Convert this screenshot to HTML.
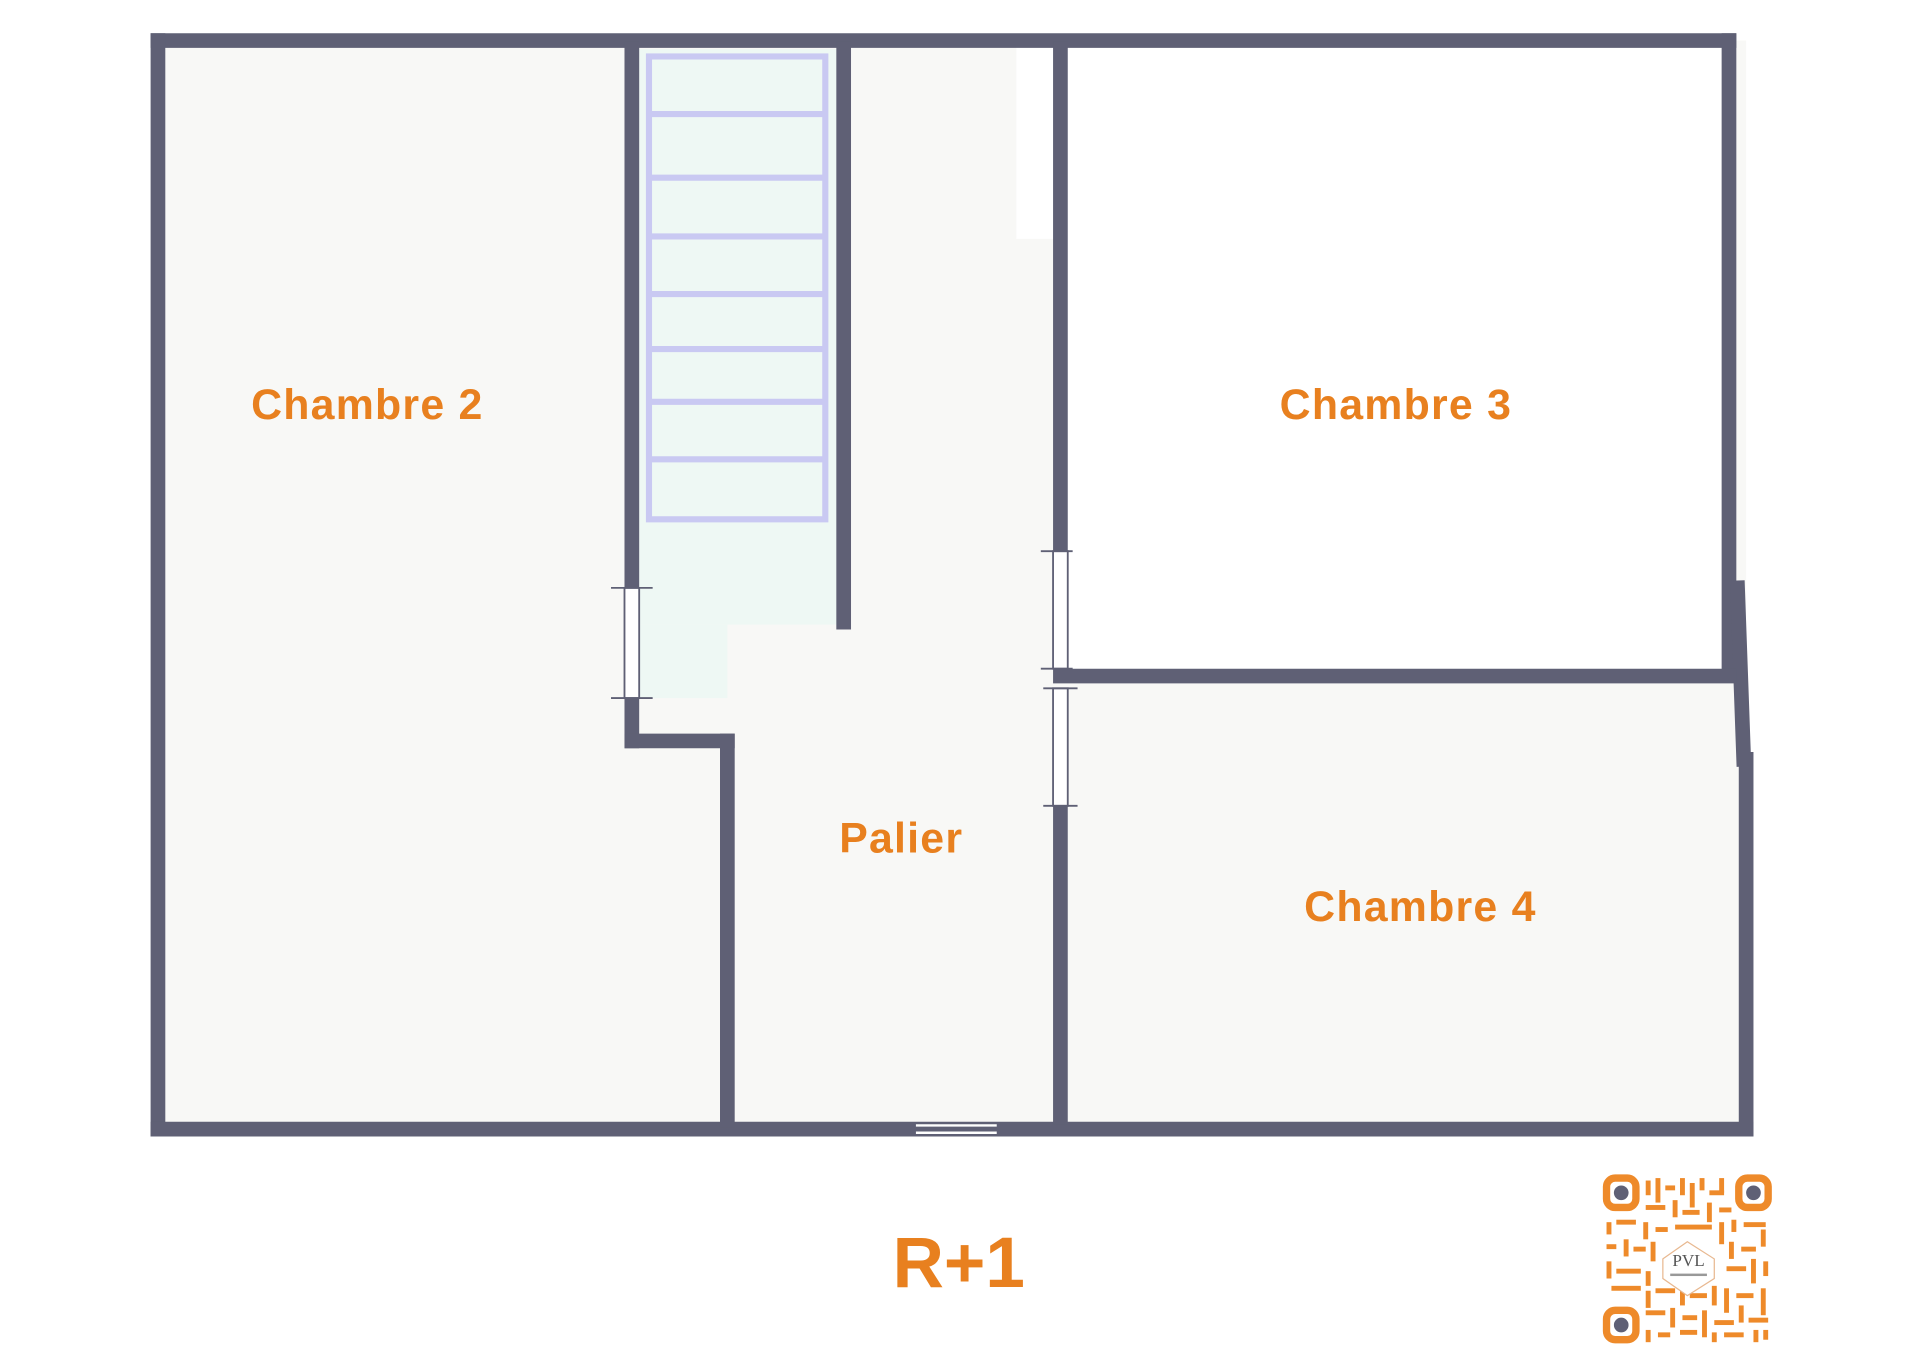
<!DOCTYPE html>
<html><head><meta charset="utf-8"><style>
html,body{margin:0;padding:0;background:#fff;}
svg{display:block}
text{font-family:"Liberation Sans","DejaVu Sans",sans-serif;font-weight:bold;fill:#e8801f}
</style></head><body>
<svg width="1920" height="1357" viewBox="0 0 1568 1108" xmlns="http://www.w3.org/2000/svg">
<rect width="1568" height="1108" fill="#fff"/>
<rect x="129" y="33" width="1297" height="889" fill="#f8f8f6"/>
<rect x="866" y="33" width="546" height="519" fill="#fff"/>
<rect x="830" y="33" width="36" height="162" fill="#fff"/>
<rect x="522" y="40" width="167" height="470" fill="#eef8f4"/>
<rect x="522" y="510" width="72" height="60" fill="#eef8f4"/>
<g stroke="#c9c9f2" stroke-width="5" fill="none">
<rect x="530" y="46" width="144" height="378"/>
<line x1="530" y1="93" x2="674" y2="93"/><line x1="530" y1="145" x2="674" y2="145"/>
<line x1="530" y1="193" x2="674" y2="193"/><line x1="530" y1="240" x2="674" y2="240"/>
<line x1="530" y1="285" x2="674" y2="285"/><line x1="530" y1="328" x2="674" y2="328"/>
<line x1="530" y1="375" x2="674" y2="375"/>
</g>
<g stroke="#5f6075" stroke-width="12" fill="none" stroke-linecap="square">
<line x1="129" y1="33" x2="1412" y2="33"/>
<line x1="129" y1="33" x2="129" y2="922"/>
<line x1="129" y1="922" x2="1426" y2="922"/>
<line x1="1412" y1="33" x2="1412" y2="550"/>
<line x1="1419" y1="480" x2="1424" y2="620"/>
<line x1="1426" y1="620" x2="1426" y2="922"/>
<line x1="516" y1="40" x2="516" y2="478"/>
<line x1="516" y1="572" x2="516" y2="605"/>
<line x1="516" y1="605" x2="594" y2="605"/>
<line x1="594" y1="605" x2="594" y2="915"/>
<line x1="689" y1="40" x2="689" y2="508"/>
<line x1="866" y1="40" x2="866" y2="448"/>
<line x1="866" y1="664" x2="866" y2="912"/>
<line x1="866" y1="552" x2="1412" y2="552"/>
</g>
<g fill="#fff" stroke="#5f6075" stroke-width="1.5">
<rect x="510" y="480" width="12" height="90"/>
<line x1="499" y1="480" x2="533" y2="480"/><line x1="499" y1="570" x2="533" y2="570"/>
<rect x="860" y="450" width="12" height="96"/>
<line x1="850" y1="450" x2="876" y2="450"/><line x1="850" y1="546" x2="876" y2="546"/>
<rect x="860" y="562" width="12" height="96"/>
<line x1="852" y1="562" x2="880" y2="562"/><line x1="852" y1="658" x2="880" y2="658"/>
</g>
<g stroke="#fff" stroke-width="2"><line x1="748" y1="919" x2="814" y2="919"/><line x1="748" y1="925" x2="814" y2="925"/></g>
<g style="letter-spacing:1px">
<text x="300" y="342" font-size="35" text-anchor="middle">Chambre 2</text>
<text x="1140" y="342" font-size="35" text-anchor="middle">Chambre 3</text>
<text x="736" y="696" font-size="35" text-anchor="middle">Palier</text>
<text x="1160" y="752" font-size="35" text-anchor="middle">Chambre 4</text>
</g>
<text x="783" y="1051" font-size="58" text-anchor="middle">R+1</text>
<g transform="translate(1308,958)">
<g fill="none" stroke="#ee8a2a" stroke-width="6">
<rect x="4" y="4" width="24" height="24" rx="7"/><rect x="112" y="4" width="24" height="24" rx="7"/><rect x="4" y="112" width="24" height="24" rx="7"/>
</g>
<g fill="#5f6075"><circle cx="16" cy="16" r="6"/><circle cx="124" cy="16" r="6"/><circle cx="16" cy="124" r="6"/></g>
<g fill="#ee8a2a">
<rect x="36" y="6" width="4" height="12"/><rect x="44" y="4" width="4" height="20"/><rect x="52" y="10" width="8" height="4"/><rect x="64" y="4" width="4" height="14"/><rect x="72" y="8" width="4" height="20"/><rect x="80" y="4" width="4" height="10"/><rect x="88" y="14" width="12" height="4"/><rect x="96" y="4" width="4" height="12"/>
<rect x="36" y="26" width="16" height="4"/><rect x="58" y="22" width="4" height="14"/><rect x="66" y="30" width="14" height="4"/><rect x="86" y="24" width="4" height="16"/><rect x="96" y="28" width="10" height="4"/>
<rect x="4" y="40" width="4" height="10"/><rect x="12" y="38" width="16" height="4"/><rect x="34" y="40" width="4" height="14"/><rect x="44" y="44" width="10" height="4"/><rect x="60" y="42" width="30" height="4"/><rect x="96" y="40" width="4" height="18"/><rect x="106" y="38" width="4" height="10"/><rect x="116" y="40" width="18" height="4"/><rect x="130" y="46" width="4" height="14"/>
<rect x="4" y="58" width="8" height="4"/><rect x="18" y="54" width="4" height="14"/><rect x="26" y="60" width="10" height="4"/><rect x="40" y="56" width="4" height="16"/><rect x="104" y="56" width="4" height="14"/><rect x="114" y="60" width="12" height="4"/>
<rect x="4" y="72" width="4" height="14"/><rect x="12" y="78" width="20" height="4"/><rect x="36" y="80" width="4" height="12"/><rect x="102" y="76" width="16" height="4"/><rect x="122" y="70" width="4" height="20"/><rect x="132" y="72" width="4" height="12"/>
<rect x="8" y="92" width="24" height="4"/><rect x="36" y="96" width="4" height="14"/><rect x="44" y="94" width="16" height="4"/><rect x="64" y="90" width="4" height="18"/><rect x="72" y="98" width="14" height="4"/><rect x="90" y="92" width="4" height="16"/><rect x="100" y="94" width="4" height="20"/><rect x="110" y="98" width="14" height="4"/><rect x="130" y="94" width="4" height="22"/>
<rect x="36" y="112" width="16" height="4"/><rect x="56" y="110" width="4" height="16"/><rect x="66" y="116" width="12" height="4"/><rect x="82" y="112" width="4" height="22"/><rect x="92" y="120" width="16" height="4"/><rect x="112" y="108" width="4" height="14"/><rect x="120" y="118" width="16" height="4"/>
<rect x="36" y="128" width="4" height="10"/><rect x="46" y="130" width="10" height="4"/><rect x="64" y="128" width="14" height="4"/><rect x="90" y="130" width="4" height="8"/><rect x="100" y="130" width="16" height="4"/><rect x="124" y="128" width="4" height="10"/><rect x="132" y="128" width="4" height="8"/>
</g>
<polygon points="50,70 70,56 92,70 92,86 70,100 50,86" fill="#fff" stroke="#e8b890" stroke-width="1"/>
<text x="71" y="76" font-size="14" text-anchor="middle" style="font-family:'Liberation Serif',serif;font-weight:normal;fill:#555">PVL</text>
<rect x="56" y="82" width="30" height="2" fill="#999"/>
</g>
</svg>
</body></html>
